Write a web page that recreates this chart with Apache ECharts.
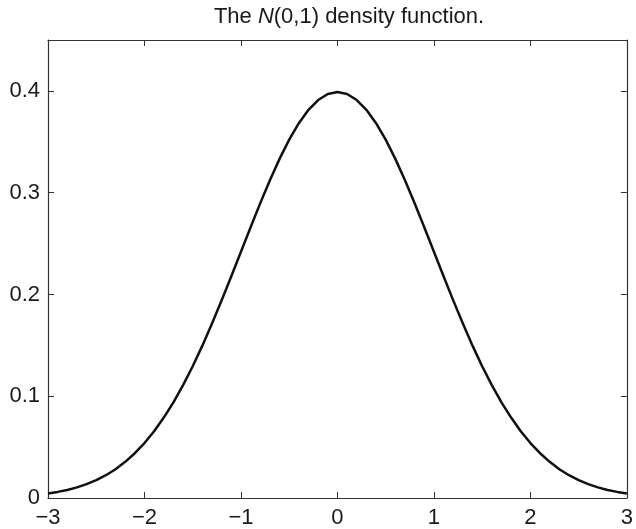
<!DOCTYPE html>
<html><head><meta charset="utf-8">
<script src="https://cdn.jsdelivr.net/npm/echarts@6/dist/echarts.min.js"></script>
<style>html,body{margin:0;padding:0;background:#fff}#c{width:636px;height:529px}</style>
</head><body><div id="c"></div>
<script>
const xValues = [-3.0,-2.9,-2.8,-2.7,-2.6,-2.5,-2.4,-2.3,-2.2,-2.1,-2.0,-1.9,-1.8,-1.7,-1.6,-1.5,-1.4,-1.3,-1.2,-1.1,-1.0,-0.9,-0.8,-0.7,-0.6,-0.5,-0.4,-0.3,-0.2,-0.1,0.0,0.1,0.2,0.3,0.4,0.5,0.6,0.7,0.8,0.9,1.0,1.1,1.2,1.3,1.4,1.5,1.6,1.7,1.8,1.9,2.0,2.1,2.2,2.3,2.4,2.5,2.6,2.7,2.8,2.9,3.0];
const densityValues = [0.0044,0.0060,0.0079,0.0104,0.0136,0.0175,0.0224,0.0283,0.0355,0.0440,0.0540,0.0656,0.0790,0.0940,0.1109,0.1295,0.1497,0.1714,0.1942,0.2179,0.2420,0.2661,0.2897,0.3123,0.3332,0.3521,0.3683,0.3814,0.3910,0.3970,0.3989,0.3970,0.3910,0.3814,0.3683,0.3521,0.3332,0.3123,0.2897,0.2661,0.2420,0.2179,0.1942,0.1714,0.1497,0.1295,0.1109,0.0940,0.0790,0.0656,0.0540,0.0440,0.0355,0.0283,0.0224,0.0175,0.0136,0.0104,0.0079,0.0060,0.0044];
const xTickLabels = ['−3','−2','−1','0','1','2','3'];
const yTickLabels = ['0','0.1','0.2','0.3','0.4'];

const font = 'Liberation Sans, Arial, Helvetica, sans-serif';
const axisColor = '#333';
const textColor = '#1a1a1a';
const chart = echarts.init(document.getElementById('c'));
function common() {
  return {
    axisLine: {show: true, onZero: false, lineStyle: {color: axisColor, width: 1.2}},
    axisTick: {show: true, inside: true, length: 6, lineStyle: {color: axisColor, width: 1}},
    splitLine: {show: false}
  };
}
chart.setOption({
  animation: false,
  title: {
    text: '{n|The }{i|N}{n|(0,1) density function.}',
    left: 344, top: 1, textAlign: 'center',
    textStyle: {rich: {
      n: {fontFamily: font, fontSize: 22, fontWeight: 'normal', color: textColor},
      i: {fontFamily: font, fontSize: 22, fontWeight: 'normal', fontStyle: 'italic', color: textColor}
    }}
  },
  grid: {left: 48, right: 4, top: 40, bottom: 31},
  xAxis: [
    Object.assign(common(), {type: 'value', position: 'bottom', min: -3, max: 3, interval: 1,
      axisLabel: {fontFamily: font, fontSize: 22, color: textColor, margin: 9,
        formatter: v => xTickLabels[Math.round(v) + 3]}}),
    Object.assign(common(), {type: 'value', position: 'top', min: -3, max: 3, interval: 1,
      axisLabel: {show: false}})
  ],
  yAxis: [
    Object.assign(common(), {type: 'value', position: 'left', min: 0, max: 0.45, interval: 0.1,
      axisLabel: {fontFamily: font, fontSize: 22, color: textColor, margin: 8,
        formatter: v => { const i = Math.round(v * 10); return (Math.abs(v - i / 10) < 1e-6 && i <= 4) ? yTickLabels[i] : ''; }}}),
    Object.assign(common(), {type: 'value', position: 'right', min: 0, max: 0.45, interval: 0.1,
      axisLabel: {show: false}})
  ],
  series: [{
    type: 'line', xAxisIndex: 0, yAxisIndex: 0,
    data: xValues.map((x, i) => [x, densityValues[i]]),
    smooth: false, showSymbol: false,
    lineStyle: {color: '#111', width: 2.5, join: 'round'}
  }]
});
</script></body></html>
